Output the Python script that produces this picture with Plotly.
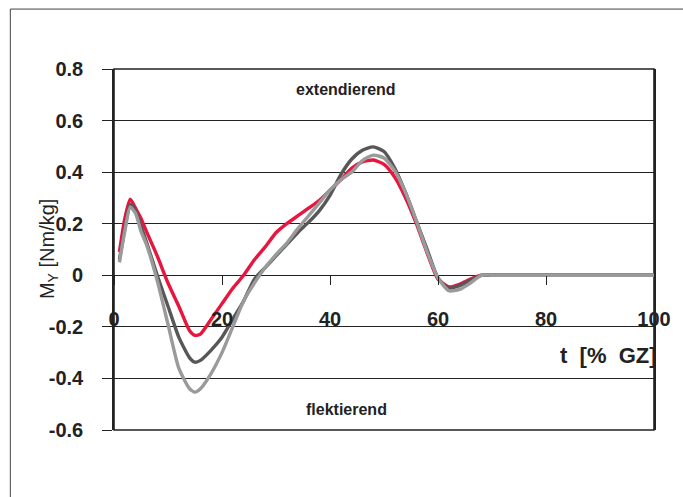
import plotly.graph_objects as go

# Gait cycle time in % (GZ)
t_pct = [1, 2, 3, 4, 5, 6, 8, 10, 12, 14, 15, 16, 18, 20, 22, 24, 26, 28, 30,
         32, 34, 36, 38, 40, 42, 44, 46, 48, 50, 52, 54, 56, 58, 60, 62, 64,
         66, 68, 70, 80, 90, 100]

# Moment M_Y [Nm/kg] for three conditions
my_red = [0.09, 0.22, 0.295, 0.26, 0.22, 0.17, 0.075, -0.03, -0.12, -0.215,
          -0.233, -0.228, -0.17, -0.11, -0.05, 0.0, 0.06, 0.11, 0.165,
          0.20, 0.23, 0.26, 0.29, 0.33, 0.37, 0.415, 0.44, 0.447, 0.43,
          0.38, 0.30, 0.20, 0.085, -0.015, -0.045, -0.035, -0.015, 0.0,
          0.0, 0.0, 0.0, 0.0]
my_dark = [0.06, 0.18, 0.275, 0.25, 0.19, 0.13, 0.0, -0.12, -0.24, -0.32,
           -0.337, -0.33, -0.29, -0.24, -0.17, -0.10, -0.015, 0.03, 0.075,
           0.12, 0.165, 0.205, 0.25, 0.31, 0.39, 0.45, 0.485, 0.498, 0.48,
           0.415, 0.32, 0.21, 0.10, -0.01, -0.05, -0.04, -0.02, 0.0,
           0.0, 0.0, 0.0, 0.0]
my_light = [0.05, 0.17, 0.265, 0.24, 0.17, 0.12, -0.02, -0.19, -0.36, -0.44,
            -0.453, -0.44, -0.38, -0.30, -0.20, -0.10, -0.03, 0.03, 0.08,
            0.125, 0.18, 0.23, 0.28, 0.33, 0.37, 0.40, 0.445, 0.466, 0.455,
            0.405, 0.32, 0.21, 0.09, -0.01, -0.06, -0.055, -0.03, 0.0,
            0.0, 0.0, 0.0, 0.0]

y_ticks = [-0.6, -0.4, -0.2, 0, 0.2, 0.4, 0.6, 0.8]
y_tick_labels = ["-0.6", "-0.4", "-0.2", "0", "0.2", "0.4", "0.6", "0.8"]
x_ticks = [0, 20, 40, 60, 80, 100]
x_tick_labels = ["0", "20", "40", "60", "80", "100"]

series = [
    (my_red, "#e8153f"),
    (my_dark, "#575757"),
    (my_light, "#9a9a9a"),
]

fig = go.Figure()
for vals, col in series:
    fig.add_trace(go.Scatter(
        x=t_pct, y=vals, mode="lines",
        line=dict(color=col, width=3.4, shape="spline", smoothing=0.6),
        showlegend=False, hoverinfo="skip",
    ))

FONT = "Liberation Sans, Arial, sans-serif"
y_min, y_max = -0.6, 0.8
zero_pos = (0 - y_min) / (y_max - y_min)

fig.update_layout(
    width=683, height=497,
    margin=dict(l=114, r=22, t=69, b=67),
    paper_bgcolor="white", plot_bgcolor="white",
    font=dict(family=FONT, color="#222"),
    xaxis=dict(
        range=[0, 100], tickvals=x_ticks, ticktext=x_tick_labels,
        anchor="free", position=zero_pos,
        ticks="outside", ticklen=9, tickwidth=1.2, tickcolor="#222",
        ticklabelstandoff=17,
        tickfont=dict(family=FONT, size=20, color="#222", weight="bold"),
        showgrid=False, zeroline=False, showline=False,
    ),
    yaxis=dict(
        range=[y_min, y_max], tickvals=y_ticks, ticktext=y_tick_labels,
        ticks="outside", ticklen=10, tickwidth=1.2, tickcolor="#222",
        ticklabelstandoff=15,
        tickfont=dict(family=FONT, size=20, color="#222", weight="bold"),
        showgrid=True, gridcolor="#222", gridwidth=1.2,
        zeroline=False, showline=True, linecolor="#222", linewidth=1.6,
        mirror=True,
    ),
    shapes=[
        # plot frame
        dict(type="rect", xref="paper", yref="paper", x0=0, x1=1, y0=0, y1=1,
             line=dict(color="#222", width=1.6), layer="below"),
        # outer frame (top and left edges)
        dict(type="line", xref="paper", yref="paper",
             x0=-0.192, x1=1.2, y0=1.166, y1=1.166,
             line=dict(color="#444", width=1)),
        dict(type="line", xref="paper", yref="paper",
             x0=-0.192, x1=-0.192, y0=1.166, y1=-0.3,
             line=dict(color="#444", width=1)),
    ],
    annotations=[
        dict(text="extendierend", x=43, y=0.72, xref="x", yref="y",
             showarrow=False, font=dict(family=FONT, size=16, color="#222", weight="bold")),
        dict(text="flektierend", x=43, y=-0.52, xref="x", yref="y",
             showarrow=False, font=dict(family=FONT, size=16, color="#222", weight="bold")),
        dict(text="t  [%  GZ]", x=91.5, y=-0.31, xref="x", yref="y",
             showarrow=False, font=dict(family=FONT, size=22, color="#222", weight="bold")),
        dict(text="M<sub>Y</sub> [Nm/kg]", x=-0.148, y=0.5, xref="paper", yref="paper",
             textangle=-90, showarrow=False,
             font=dict(family=FONT, size=20, color="#222")),
    ],
)

fig.write_html("out.html")
